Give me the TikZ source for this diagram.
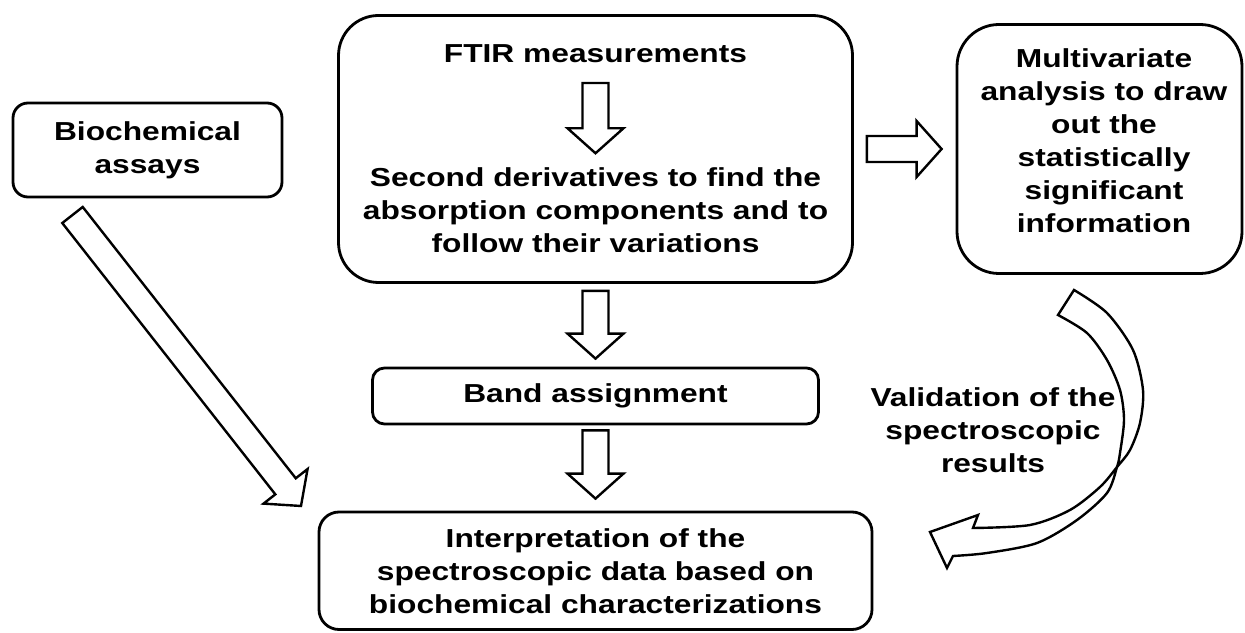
\documentclass[tikz,border=0pt]{standalone}
\usepackage{fontspec}
\newfontfamily\chartfont{Liberation Sans}[FakeStretch=1.22]
\usetikzlibrary{calc}

\newcommand{\blockarrow}[2]{%
	\draw[hollow] let \p1=(#1), \p2=(#2), \n1={atan2(\y2-\y1,\x2-\x1)}, \n2={veclen(\x2-\x1,\y2-\y1)} in
		[shift={(\p1)}, rotate=\n1] (0pt,-13pt) -- (\n2-25pt,-13pt) -- (\n2-25pt,-28pt) -- (\n2+0pt,0pt) -- (\n2-25pt,28pt) -- (\n2-25pt,13pt) -- (0pt,13pt) -- cycle;}

\begin{document}
\begin{tikzpicture}[x=1pt, y=1pt,
	box/.style={draw=black, line width=2.8pt, rounded corners=#1, inner sep=0pt, align=center},
	txt/.style={font=\chartfont\bfseries\fontsize{26}{33}\selectfont, align=center, inner sep=0pt},
	hollow/.style={draw=black, line width=2.4pt, fill=white}]
	\fill[white] (0,0) rectangle (1245,632);

	\node[box=15pt, txt, minimum width=269pt, minimum height=94pt] (bio) at (147.5,482) {Biochemical\\assays};
	\node[box=40pt, minimum width=514pt, minimum height=267pt] (ftir) at (595.5,483) {};
	\node[txt, anchor=base] (ftirtitle) at (595.5,569) {FTIR measurements};
	\node[txt] (deriv) at (595.5,422) {Second derivatives to find the\\absorption components and to\\follow their variations};
	\node[box=42pt, minimum width=285pt, minimum height=249pt] (multi) at (1099.5,483) {};
	\node[txt] (multitxt) at (1104,491.5) {Multivariate\\analysis to draw\\out the\\statistically\\significant\\information};
	\node[box=12pt, txt, minimum width=446pt, minimum height=56pt] (band) at (595.5,236) {Band assignment};
	\node[box=20pt, txt, minimum width=553pt, minimum height=117.5pt] (interp) at (595.5,61.25) {Interpretation of the\\spectroscopic data based on\\biochemical characterizations};
	\node[txt] (valid) at (993,201.5) {Validation of the\\spectroscopic\\results};

	\coordinate (biotail) at (72.5,417);
	\coordinate (biotip) at (301,126);

	\blockarrow{[yshift=-20pt]ftirtitle.base}{[yshift=14pt]deriv.north}
	\blockarrow{[xshift=13pt]ftir.east}{[xshift=-14pt]multi.west}
	\blockarrow{[yshift=-7pt]ftir.south}{[yshift=8pt]band.north}
	\blockarrow{[yshift=-5pt]band.south}{[yshift=12pt]interp.north}
	\blockarrow{biotail}{biotip}

	% curved arrow back to the interpretation
	\draw[hollow] plot[smooth] coordinates {(1074,342) (1107,319) (1133,282) (1143,242) (1140,209) (1130,182) (1117,165) (1100,145) (1070,122) (1030,107) (973,104)}
		-- (978,117) -- (930,100) -- (947,64)
		-- plot[smooth] coordinates {(953,76) (987,79) (1037,89) (1077,112) (1107,139) (1117,165) (1120,179) (1124,212) (1120,242) (1107,272) (1087,299) (1058,317)}
		-- cycle;
\end{tikzpicture}
\end{document}
